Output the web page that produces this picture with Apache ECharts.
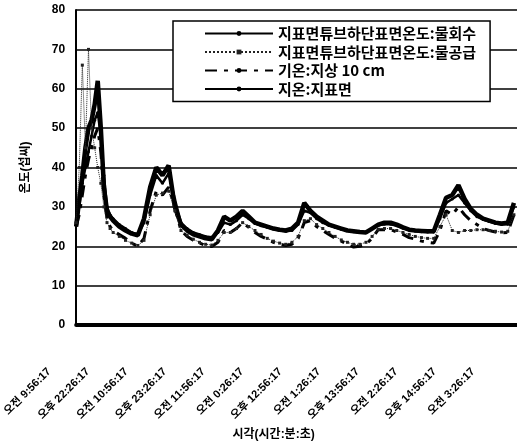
<!DOCTYPE html>
<html><head><meta charset="utf-8">
<script src="https://cdn.jsdelivr.net/npm/echarts@6/dist/echarts.min.js"></script>
<style>html,body{margin:0;padding:0;background:#fff}#c{width:517px;height:448px}</style>
</head><body><div id="c"></div>
<script>
// elapsed hours since first sample
const hours = [0,1,2,3,4,5,6,7,8,9,10,11,12,
  14,16,18,20,22,24,26,28,30,32,34,36,38,40,42,44,46,48,50,52,54,56,58,60,62,64,66,68,70,72,
  74,76,78,80,82,84,86,88,90,92,94,96,98,100,102,104,106,108,110,112,114,116,118,120,122,124,
  126,128,130,132,134,136,138,140,142];
const xTickLabels = ['오전 9:56:17','오후 22:26:17','오전 10:56:17','오후 23:26:17','오전 11:56:17','오전 0:26:17',
  '오후 12:56:17','오전 1:26:17','오후 13:56:17','오전 2:26:17','오후 14:56:17','오전 3:26:17'];
const seriesNames = ['지표면튜브하단표면온도:물회수','지표면튜브하단표면온도:물공급','기온:지상 10 cm','지온:지표면'];
const returnTemp = [26,30,36,40,44,48,52,54,48,38,30,28,27,
  25.5,24.5,23.5,23,26,33,38,36,38.5,32,26,24.5,23.5,23,22.5,22.3,23.5,26,25.5,26.5,28,27,25.8,25.2,24.8,24.4,24,23.8,24,25.5,
  29,28.5,27,26,25.3,24.8,24.3,24,23.7,23.5,23.5,24.5,25.3,25.6,25.6,25.2,24.6,24.1,23.9,23.7,23.6,23.6,27,31,32,33,
  31,29,27.5,26.8,26.3,25.8,25.5,25.6,30];
const supplyTemp = [26,40,66,45,70,50,45,40,36,30,26,24.5,23.5,
  22.5,21.5,20.8,20.2,21.5,28,33,33.5,34,29,24,22.8,21.8,21,20.5,20.3,21.5,23.5,23.5,24.5,26,25,24,23,22,21.3,20.8,20.5,21,22.5,
  26.5,27,25.5,24.5,23.5,22.5,21.6,21,20.5,20.5,21,22.5,24.3,24.5,24.5,24,23.5,23,22.5,22.2,22,22,25,28,24,23.5,
  24,24,24.2,24.2,24,23.8,23.6,23.8,28];
const airTemp = [25,28,33,38,42,45,48,50,44,33,27,25,24,
  23,22,20.8,20,22,29,34,33,35,30,24,22.5,21.5,20.8,20.2,19.9,21,24,23.5,24.5,26,24.8,23.5,22.5,21.8,21,20.5,20.2,20.5,22,
  26,26.5,25,24,23,22,21.3,20.5,19.8,20,20.5,22,24.2,24.2,24.2,23.6,23,22.2,21.8,21.3,21,20.8,24,29,28,30,
  28,26.5,25.5,24.5,24,23.6,23.4,23.5,28];
const groundTemp = [25,32,38,45,50,52,56,62,50,35,29,27.5,26.5,
  25,24,23.2,22.8,27,35,40,38,40.5,30,25.5,24,23,22.5,22,21.8,24,27.5,26.5,27.5,29,27.5,26,25.5,25,24.5,24.2,24,24.5,26,
  31,29,27.5,26.5,25.5,25,24.5,24,23.8,23.6,23.5,24.5,25.5,26,26,25.5,24.8,24.2,24,23.9,23.8,23.8,28,32.3,33,35.5,
  32,29.5,28,27,26.5,26,25.8,26,31];

const pairs = arr => hours.map((h,i)=>[h,arr[i]]);
const FF = "'Liberation Sans','Noto Sans CJK KR',sans-serif";
const FK = "'Noto Sans CJK KR',sans-serif";
const chart = echarts.init(document.getElementById('c'), null, {renderer:'canvas'});
chart.setOption({
  animation:false,
  backgroundColor:'#fff',
  grid:{left:71,right:0,top:10,bottom:123,containLabel:false},
  legend:{
    orient:'vertical', left:173, top:21, data:seriesNames,
    backgroundColor:'#fff', borderColor:'#000', borderWidth:1.5, borderRadius:0,
    padding:[5,14,5,31], itemWidth:68, itemHeight:6, itemGap:3.5,
    textStyle:{fontSize:15,lineHeight:15,fontWeight:'bold',color:'#000',fontFamily:FK}
  },
  xAxis:{
    type:'value', min:0, max:143, interval:12.5,
    axisLine:{show:true,lineStyle:{color:'#000',width:4}},
    axisTick:{show:false}, splitLine:{show:false},
    axisLabel:{rotate:45, margin:18, padding:[0,38,0,0], showMaxLabel:false,
      fontSize:11, fontWeight:'bold', color:'#000', fontFamily:FF,
      formatter:v=>{const k=Math.round(v/12.5); return Math.abs(v-k*12.5)<1e-6 && xTickLabels[k] ? xTickLabels[k] : '';}},
    name:'시각(시간:분:초)', nameLocation:'middle', nameGap:104,
    nameTextStyle:{fontSize:12,fontWeight:'bold',color:'#000',fontFamily:FF,padding:[0,46,0,0]}
  },
  yAxis:{
    type:'value', min:0, max:80, interval:10,
    axisLine:{show:true,lineStyle:{color:'#000',width:2}},
    axisTick:{show:false},
    splitLine:{show:true,lineStyle:{color:'#000',width:1.5}},
    axisLabel:{margin:11,fontSize:12,fontWeight:'bold',color:'#000',fontFamily:FF},
    name:'온도(섭씨)', nameLocation:'middle', nameGap:44, nameRotate:90,
    nameTextStyle:{fontSize:12,fontWeight:'bold',color:'#000',fontFamily:FF}
  },
  series:[
    {name:seriesNames[3], type:'line', data:pairs(groundTemp), symbol:'none', z:2,
      lineStyle:{color:'#000',width:4.5}, itemStyle:{color:'#000'}},
    {name:seriesNames[0], type:'line', data:pairs(returnTemp), symbol:'circle', symbolSize:3, z:3,
      lineStyle:{color:'#000',width:2.5}, itemStyle:{color:'#000'}},
    {name:seriesNames[2], type:'line', data:pairs(airTemp), symbol:'none', z:4,
      lineStyle:{color:'#000',width:3,type:[12,7,4,7]}, itemStyle:{color:'#000'}},
    {name:seriesNames[1], type:'line', data:pairs(supplyTemp), symbol:'rect', symbolSize:3, z:5,
      lineStyle:{color:'#222',width:1,type:'dotted'}, itemStyle:{color:'#222'}}
  ]
});
</script></body></html>
